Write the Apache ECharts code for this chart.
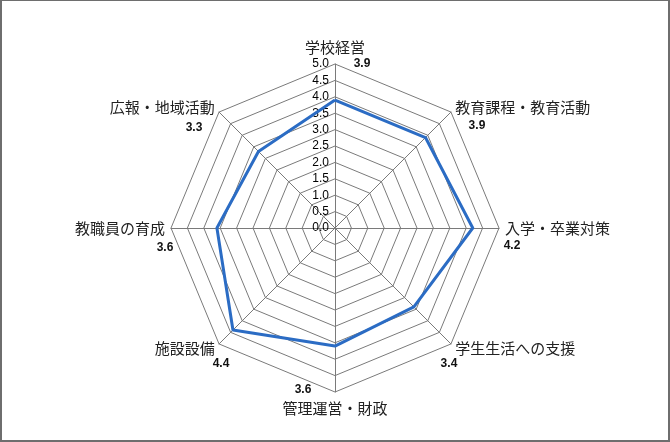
<!DOCTYPE html>
<html>
<head>
<meta charset="utf-8">
<script src="https://cdn.jsdelivr.net/npm/echarts@6/dist/echarts.min.js"></script>
<style>
  html, body { margin: 0; padding: 0; background: #fff; }
  #chart {
    width: 670px; height: 442px; box-sizing: border-box;
    border-style: solid; border-color: #6e6e6e;
    border-width: 1px 2px 2px 2px;
  }
</style>
</head>
<body>
<div id="chart"></div>
<script>
// indicators, counter-clockwise from the top (echarts radar order)
var names = ['学校経営', '広報・地域活動', '教職員の育成', '施設設備',
             '管理運営・財政', '学生生活への支援', '入学・卒業対策', '教育課程・教育活動'];
var scores = [3.9, 3.3, 3.6, 4.4, 3.6, 3.4, 4.2, 3.9];
var maxScore = 5;

// where each score label sits relative to its outer vertex [dx, dy]
var valueOffsets = [[27, 0], [-25, 16], [-6, 20], [2, 20],
                    [-32, -2], [-2, 20], [13, 18], [26, 14]];

var chart = echarts.init(document.getElementById('chart'));

// rich styles for the score labels: padding shifts a centred label
var valueRich = {};
valueOffsets.forEach(function (o, i) {
    var dx = o[0], dy = o[1];
    valueRich['v' + i] = {
        fontFamily: 'Liberation Sans', fontSize: 12, fontWeight: 'bold', color: '#111',
        padding: [Math.max(0, 2 * dy), Math.max(0, -2 * dx), Math.max(0, -2 * dy), Math.max(0, 2 * dx)]
    };
});

var option = {
    animation: false,
    radar: [{
        center: [333, 227],
        radius: 164,
        shape: 'polygon',
        splitNumber: 10,
        startAngle: 90,
        nameGap: 6,
        indicator: names.map(function (n, i) {
            var ind = { name: n, min: 0, max: maxScore };
            if (i === 0) {
                ind.axisLabel = {
                    show: true, fontFamily: 'Liberation Sans', fontSize: 12, color: '#000',
                    margin: 6, formatter: function (v) { return Number(v).toFixed(1); }
                };
            }
            return ind;
        }),
        axisName: {
            color: '#222', fontFamily: 'Noto Sans CJK JP', fontSize: 15,
            formatter: function (name) {
                return (name === names[0] || name === names[4]) ? '{tb|' + name + '}' : name;
            },
            rich: {
                tb: { color: '#222', fontFamily: 'Noto Sans CJK JP', fontSize: 15, padding: [3, 0, 3, 0] }
            }
        },
        axisLine: { lineStyle: { color: '#7a7a7a', width: 1 } },
        splitLine: { lineStyle: { color: '#7a7a7a', width: 1 } },
        splitArea: { show: false },
        axisTick: { show: false },
        axisLabel: { show: false }
    }, {
        // second, invisible radar only carries the score labels
        center: [333, 227],
        radius: 164,
        shape: 'polygon',
        startAngle: 90,
        nameGap: 0,
        indicator: scores.map(function (s, i) {
            return { name: '{v' + i + '|' + s.toFixed(1) + '}', min: 0, max: maxScore };
        }),
        axisName: { align: 'center', verticalAlign: 'middle', rich: valueRich },
        axisLine: { show: false },
        splitLine: { show: false },
        splitArea: { show: false },
        axisTick: { show: false },
        axisLabel: { show: false }
    }],
    series: [{
        type: 'radar',
        radarIndex: 0,
        symbol: 'none',
        lineStyle: { color: '#2b6cc4', width: 3 },
        data: [{ value: scores, name: '評価' }]
    }]
};
chart.setOption(option);
</script>
</body>
</html>
